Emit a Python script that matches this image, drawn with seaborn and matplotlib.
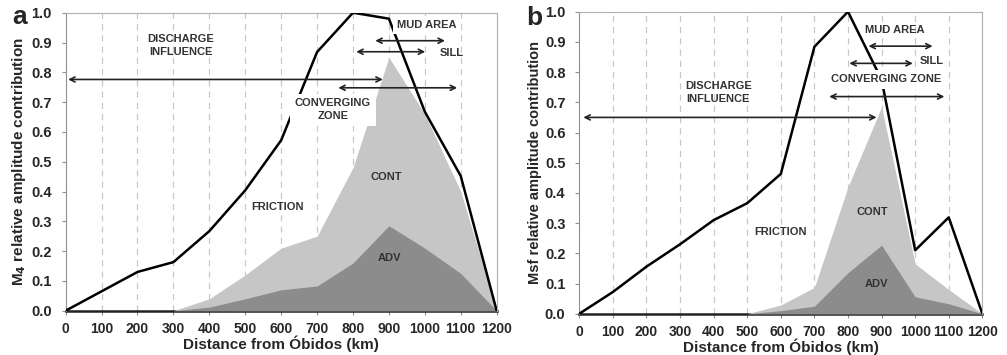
import numpy as np
import pandas as pd
import seaborn as sns
import matplotlib.pyplot as plt

# panel a (M4)
dist_a = [0, 100, 200, 300, 400, 500, 600, 700, 800, 900, 1000, 1100, 1200]
friction_a = [0.0, 0.065, 0.13, 0.163, 0.267, 0.404, 0.572, 0.868, 1.0, 0.98, 0.668, 0.452, 0.0]
fill_x_a = [300, 400, 500, 600, 700, 800, 900, 1000, 1100, 1200]
cont_a = [0.0, 0.04, 0.12, 0.21, 0.25, 0.48, 0.85, 0.66, 0.40, 0.0]
adv_a = [0.0, 0.012, 0.04, 0.07, 0.083, 0.16, 0.285, 0.21, 0.125, 0.0]

# panel b (Msf)
dist_b = [0, 100, 200, 300, 400, 500, 600, 700, 800, 900, 1000, 1100, 1200]
friction_b = [0.0, 0.072, 0.156, 0.23, 0.31, 0.366, 0.463, 0.884, 1.0, 0.775, 0.21, 0.319, 0.0]
fill_x_b = [500, 600, 700, 800, 900, 1000, 1100, 1200]
cont_b = [0.0, 0.029, 0.087, 0.42, 0.685, 0.165, 0.08, 0.0]
adv_b = [0.0, 0.01, 0.025, 0.136, 0.227, 0.056, 0.033, 0.0]

# zone arrows: (start, end, y)
zones_a = {'discharge': (7, 883, 0.776), 'mud': (862, 1056, 0.906),
           'sill': (809, 1001, 0.869), 'conv': (759, 1090, 0.748)}
zones_b = {'discharge': (12, 885, 0.65), 'mud': (861, 1052, 0.886),
           'sill': (804, 993, 0.829), 'conv': (744, 1087, 0.719)}

sns.set_style('white')
plt.rcParams['font.family'] = ['Liberation Sans', 'DejaVu Sans']
plt.rcParams['font.weight'] = 'bold'
plt.rcParams['mathtext.default'] = 'bf'

LIGHT = '#c6c6c6'
DARK = '#8c8c8c'

fig = plt.figure(figsize=(10.07, 3.55), dpi=100)
ax_a = fig.add_axes([0.0652, 0.1248, 0.428, 0.8394])
ax_b = fig.add_axes([0.5753, 0.1163, 0.4002, 0.8507])


def draw_panel(ax, dist, fric, fx, cont, adv, zones):
    ax.fill_between(fx, 0, cont, color=LIGHT, lw=0, zorder=2)
    ax.fill_between(fx, 0, adv, color=DARK, lw=0, zorder=3)
    df = pd.DataFrame({'dist': dist, 'fric': fric})
    sns.lineplot(data=df, x='dist', y='fric', color='black', lw=1.8,
                 sort=False, ax=ax, zorder=4)
    for key, (x0, x1, y) in zones.items():
        ax.annotate('', xy=(x1, y), xytext=(x0, y),
                    arrowprops=dict(arrowstyle='<->', color='#222222', lw=1.2,
                                    shrinkA=0, shrinkB=0, mutation_scale=9),
                    zorder=6)
    ax.set_xlim(0, 1200)
    ax.set_ylim(0, 1.0)
    ax.set_xticks(range(0, 1201, 100))
    ax.set_yticks(np.arange(0, 1.01, 0.1))
    ax.set_yticklabels([f'{v:.1f}' for v in np.arange(0, 1.01, 0.1)])
    for x in range(100, 1200, 100):
        ax.axvline(x, color='#c8c8c8', lw=0.9, ls=(0, (5, 4)), zorder=1)
    for s in ['top', 'right']:
        ax.spines[s].set_color('#b0b0b0')
    ax.spines['left'].set_color('#909090')
    ax.spines['bottom'].set_color('#222222')
    ax.spines['bottom'].set_linewidth(1.8)
    ax.spines['bottom'].set_zorder(1.5)
    ax.tick_params(axis='both', labelsize=10, length=3, color='#909090',
                   direction='out', left=True, bottom=True)
    ax.tick_params(axis='y', pad=7, labelsize=10.5)
    ax.tick_params(axis='x', pad=5)
    ax.set_xlabel('Distance from Óbidos (km)', fontsize=11, fontweight='bold', labelpad=0)


draw_panel(ax_a, dist_a, friction_a, fill_x_a, cont_a, adv_a, zones_a)
draw_panel(ax_b, dist_b, friction_b, fill_x_b, cont_b, adv_b, zones_b)

ax_a.set_ylabel(r'M$_{\mathbf{4}}$ relative amplitude contribution', fontsize=11,
                fontweight='bold', labelpad=2)
ax_b.set_ylabel('Msf relative amplitude contribution', fontsize=10.5, fontweight='bold',
                labelpad=2)

tkw = dict(fontsize=8, fontweight='bold', color='#333333', ha='center', va='center',
           linespacing=1.35)
box = dict(fc='white', ec='none', pad=3)

# panel a labels
ax_a.text(321, 0.889, 'DISCHARGE\nINFLUENCE', zorder=5, **tkw)
ax_a.text(1005, 0.958, 'MUD AREA', zorder=5, bbox=box, **tkw)
ax_a.text(1075, 0.864, 'SILL', zorder=5, **tkw)
ax_a.text(744, 0.674, 'CONVERGING\nZONE', zorder=5,
          bbox=dict(fc='white', ec='none', pad=3.5), **tkw)
ax_a.text(894, 0.45, 'CONT', zorder=5, **tkw)
ax_a.text(590, 0.349, 'FRICTION', zorder=5, **tkw)
ax_a.text(901, 0.176, 'ADV', zorder=5, **tkw)

# panel b labels
ax_b.text(414, 0.733, 'DISCHARGE\nINFLUENCE', zorder=5, **tkw)
ax_b.text(940, 0.939, 'MUD AREA', zorder=5, **tkw)
ax_b.text(1049, 0.837, 'SILL', zorder=5, **tkw)
ax_b.text(915, 0.776, 'CONVERGING ZONE', zorder=5, bbox=box, **tkw)
ax_b.text(873, 0.336, 'CONT', zorder=5, **tkw)
ax_b.text(600, 0.272, 'FRICTION', zorder=5, **tkw)
ax_b.text(885, 0.098, 'ADV', zorder=5, **tkw)

fig.text(0.019, 0.952, 'a', fontsize=19, fontweight='bold', ha='center', va='center')
fig.text(0.531, 0.948, 'b', fontsize=19, fontweight='bold', ha='center', va='center')

fig.savefig('out.png', dpi=100)
